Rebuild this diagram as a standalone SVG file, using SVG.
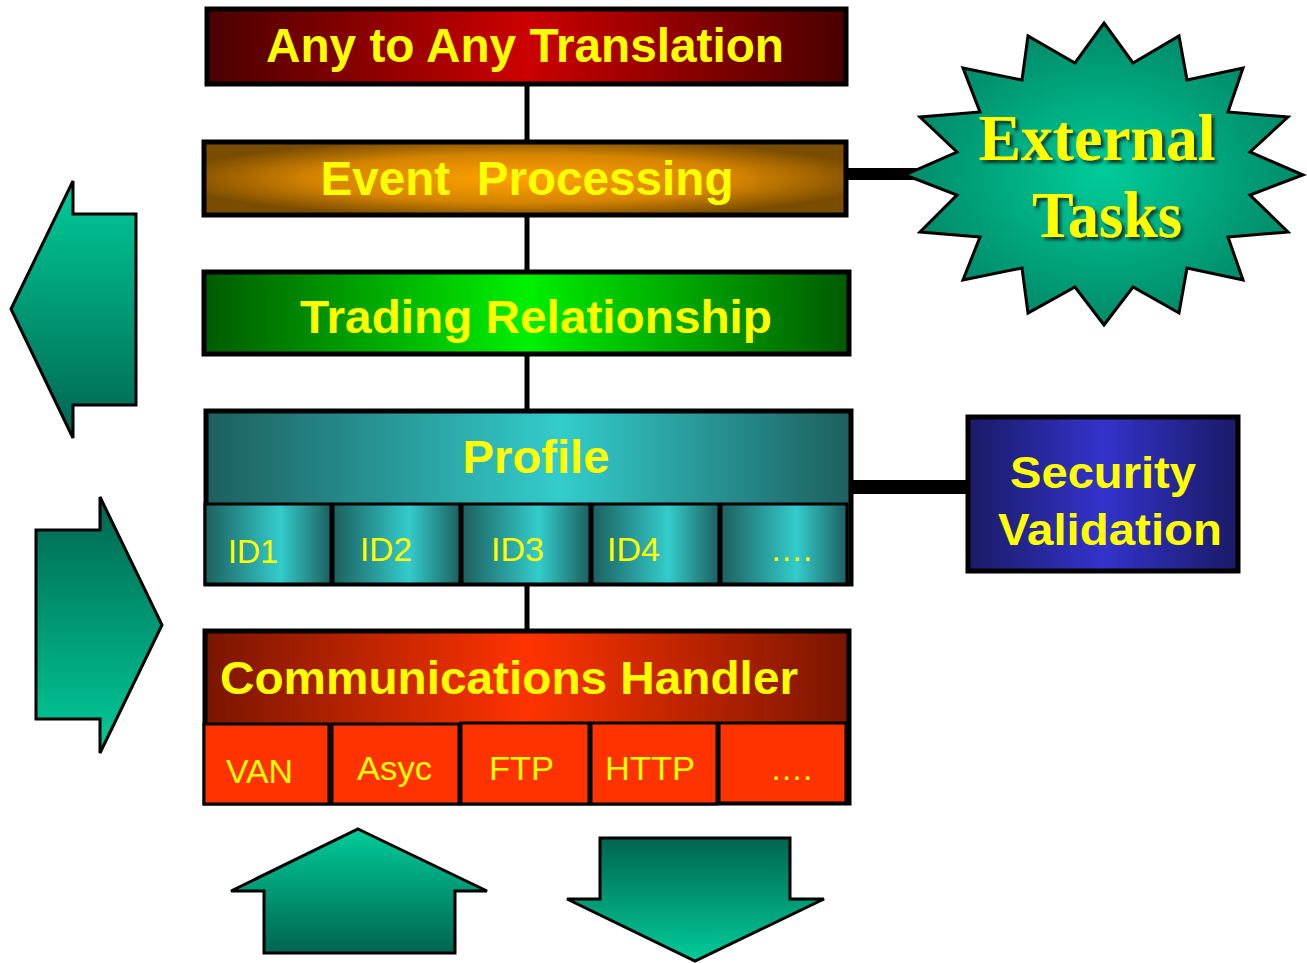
<svg xmlns="http://www.w3.org/2000/svg" width="1307" height="963" viewBox="0 0 1307 963">
<defs>
<linearGradient id="gRed" x1="0" y1="0" x2="1" y2="0"><stop offset="0" stop-color="#4a0000"/><stop offset="0.5" stop-color="#cc0000"/><stop offset="1" stop-color="#4a0000"/></linearGradient>
<radialGradient id="gOrange" cx="0.5" cy="0.5" r="0.55"><stop offset="0" stop-color="#ffa200"/><stop offset="0.6" stop-color="#d58400"/><stop offset="1" stop-color="#7a4c00"/></radialGradient>
<linearGradient id="gGreen" x1="0" y1="0" x2="1" y2="0"><stop offset="0" stop-color="#005a00"/><stop offset="0.5" stop-color="#00f000"/><stop offset="1" stop-color="#005a00"/></linearGradient>
<linearGradient id="gTeal" x1="0" y1="0" x2="1" y2="0"><stop offset="0" stop-color="#1d5f5f"/><stop offset="0.55" stop-color="#33cccc"/><stop offset="1" stop-color="#1d5f5f"/></linearGradient>
<linearGradient id="gCell" x1="0" y1="0" x2="1" y2="0"><stop offset="0" stop-color="#1d5f5f"/><stop offset="0.6" stop-color="#33cccc"/><stop offset="1" stop-color="#1d5f5f"/></linearGradient>
<linearGradient id="gComm" x1="0" y1="0" x2="1" y2="0"><stop offset="0" stop-color="#7a1500"/><stop offset="0.5" stop-color="#ff3300"/><stop offset="1" stop-color="#7a1500"/></linearGradient>
<linearGradient id="gBlue" x1="0" y1="0" x2="1" y2="0"><stop offset="0" stop-color="#1a1a66"/><stop offset="0.5" stop-color="#3333cc"/><stop offset="1" stop-color="#1a1a66"/></linearGradient>
<radialGradient id="gStar" cx="0.5" cy="0.5" r="0.5"><stop offset="0" stop-color="#00cc99"/><stop offset="1" stop-color="#008a68"/></radialGradient>
<linearGradient id="gArrLD" x1="0" y1="0" x2="0" y2="1"><stop offset="0" stop-color="#00cc99"/><stop offset="1" stop-color="#006550"/></linearGradient>
<linearGradient id="gArrDL" x1="0" y1="0" x2="0" y2="1"><stop offset="0" stop-color="#006550"/><stop offset="1" stop-color="#00cc99"/></linearGradient>
<filter id="shadow" x="-10%" y="-10%" width="130%" height="140%"><feDropShadow dx="3" dy="3" stdDeviation="1.5" flood-color="#0a2a20" flood-opacity="0.9"/></filter>
</defs>
<style>
.box{stroke:#000;stroke-width:5}
.cell{stroke:#000;stroke-width:3}
.arrow{stroke:#000;stroke-width:3;stroke-linejoin:miter}
.title{font-family:"Liberation Sans",Arial,sans-serif;font-weight:bold;fill:#ffff00}
.lbl{font-family:"Liberation Sans",Arial,sans-serif;fill:#ffff00;font-size:33px}
.serif{font-family:"Liberation Serif","Times New Roman",serif;font-weight:bold;fill:#ffff00}
.conn{stroke:#000;fill:none}
</style>

<g id="connectors">
<line class="conn" x1="527" y1="85" x2="527" y2="141" stroke-width="5"/>
<line class="conn" x1="527" y1="216" x2="527" y2="271" stroke-width="5"/>
<line class="conn" x1="527" y1="354" x2="527" y2="410" stroke-width="5"/>
<line class="conn" x1="527" y1="585" x2="527" y2="630" stroke-width="5"/>
<line class="conn" x1="846" y1="174" x2="925" y2="174" stroke-width="12"/>
<line class="conn" x1="852" y1="487" x2="967" y2="487" stroke-width="14"/>
</g>

<g id="translation">
<rect class="box" x="207" y="9" width="639" height="75" fill="url(#gRed)"/>
<text class="title" x="525" y="62" font-size="48" text-anchor="middle" textLength="518" lengthAdjust="spacingAndGlyphs">Any to Any Translation</text>
</g>

<g id="event">
<rect class="box" x="204" y="142" width="642" height="73" fill="url(#gOrange)"/>
<text class="title" x="527" y="195" font-size="48" text-anchor="middle" textLength="413" lengthAdjust="spacingAndGlyphs" xml:space="preserve">Event  Processing</text>
</g>

<g id="trading">
<rect class="box" x="204" y="272" width="645" height="82" fill="url(#gGreen)"/>
<text class="title" x="536" y="333" font-size="47" text-anchor="middle" textLength="472" lengthAdjust="spacingAndGlyphs">Trading Relationship</text>
</g>

<g id="profile">
<rect class="box" x="206" y="411" width="645" height="173" fill="url(#gTeal)"/>
<text class="title" x="536" y="473" font-size="46" text-anchor="middle" textLength="147" lengthAdjust="spacingAndGlyphs">Profile</text>
<rect class="cell" x="205" y="504" width="126" height="80" fill="url(#gCell)"/>
<rect class="cell" x="333" y="504" width="127" height="80" fill="url(#gCell)"/>
<rect class="cell" x="462" y="504" width="128" height="80" fill="url(#gCell)"/>
<rect class="cell" x="592" y="504" width="127" height="80" fill="url(#gCell)"/>
<rect class="cell" x="721" y="504" width="126" height="80" fill="url(#gCell)"/>
<text class="lbl" x="228" y="563" textLength="50" lengthAdjust="spacingAndGlyphs">ID1</text>
<text class="lbl" x="360" y="561" textLength="52" lengthAdjust="spacingAndGlyphs">ID2</text>
<text class="lbl" x="491" y="561" textLength="53" lengthAdjust="spacingAndGlyphs">ID3</text>
<text class="lbl" x="607" y="561" textLength="53" lengthAdjust="spacingAndGlyphs">ID4</text>
<text class="lbl" x="770" y="561">….</text>
</g>

<g id="comms">
<rect class="box" x="205" y="631" width="644" height="172" fill="url(#gComm)"/>
<text class="title" x="220" y="694" font-size="46" textLength="578" lengthAdjust="spacingAndGlyphs">Communications Handler</text>
<rect class="cell" x="204" y="724" width="125" height="80" fill="#ff3300"/>
<rect class="cell" x="332" y="724" width="127" height="80" fill="#ff3300"/>
<rect class="cell" x="461" y="723" width="128" height="81" fill="#ff3300"/>
<rect class="cell" x="591" y="723" width="126" height="81" fill="#ff3300"/>
<rect class="cell" x="719" y="723" width="127" height="80" fill="#ff3300"/>
<text class="lbl" x="226" y="783" font-size="35" textLength="67" lengthAdjust="spacingAndGlyphs">VAN</text>
<text class="lbl" x="357" y="780" font-size="35" textLength="75" lengthAdjust="spacingAndGlyphs">Asyc</text>
<text class="lbl" x="489" y="780" font-size="35" textLength="65" lengthAdjust="spacingAndGlyphs">FTP</text>
<text class="lbl" x="605" y="780" font-size="35" textLength="90" lengthAdjust="spacingAndGlyphs">HTTP</text>
<text class="lbl" x="770" y="780">….</text>
</g>

<g id="security">
<rect class="box" x="968" y="417" width="270" height="154" fill="url(#gBlue)"/>
<text class="title" x="1103" y="488" font-size="44" text-anchor="middle" textLength="186" lengthAdjust="spacingAndGlyphs">Security</text>
<text class="title" x="1110" y="545" font-size="44" text-anchor="middle" textLength="224" lengthAdjust="spacingAndGlyphs">Validation</text>
</g>

<g id="external">
<polygon class="arrow" stroke-width="2.5" fill="url(#gStar)" points="1104,23 1133,63 1179,36 1187,80 1243,68 1228,112 1288,117 1250,152 1303,175 1250,195 1288,232 1228,237 1243,280 1187,268 1179,313 1133,287 1104,325 1075,287 1028,313 1022,268 963,280 980,237 920,232 957,195 905,175 957,152 920,117 980,112 963,68 1022,80 1028,36 1075,63"/>
<g filter="url(#shadow)">
<text class="serif" x="1097" y="160" font-size="66" text-anchor="middle" textLength="237" lengthAdjust="spacingAndGlyphs">External</text>
<text class="serif" x="1107" y="237" font-size="66" text-anchor="middle" textLength="150" lengthAdjust="spacingAndGlyphs">Tasks</text>
</g>
</g>

<g id="arrow-left">
<polygon class="arrow" fill="url(#gArrLD)" points="11,309 73,181 73,214 136,214 136,405 73,405 73,438"/>
</g>
<g id="arrow-right">
<polygon class="arrow" fill="url(#gArrDL)" points="36,530 100,530 100,497 162,625 100,753 100,719 36,719"/>
</g>
<g id="arrow-up">
<polygon class="arrow" fill="url(#gArrLD)" points="358,829 487,891 455,891 455,953 264,953 264,891 231,891"/>
</g>
<g id="arrow-down">
<polygon class="arrow" fill="url(#gArrDL)" points="600,838 790,838 790,899 824,899 695,961 567,899 600,899"/>
</g>
</svg>
